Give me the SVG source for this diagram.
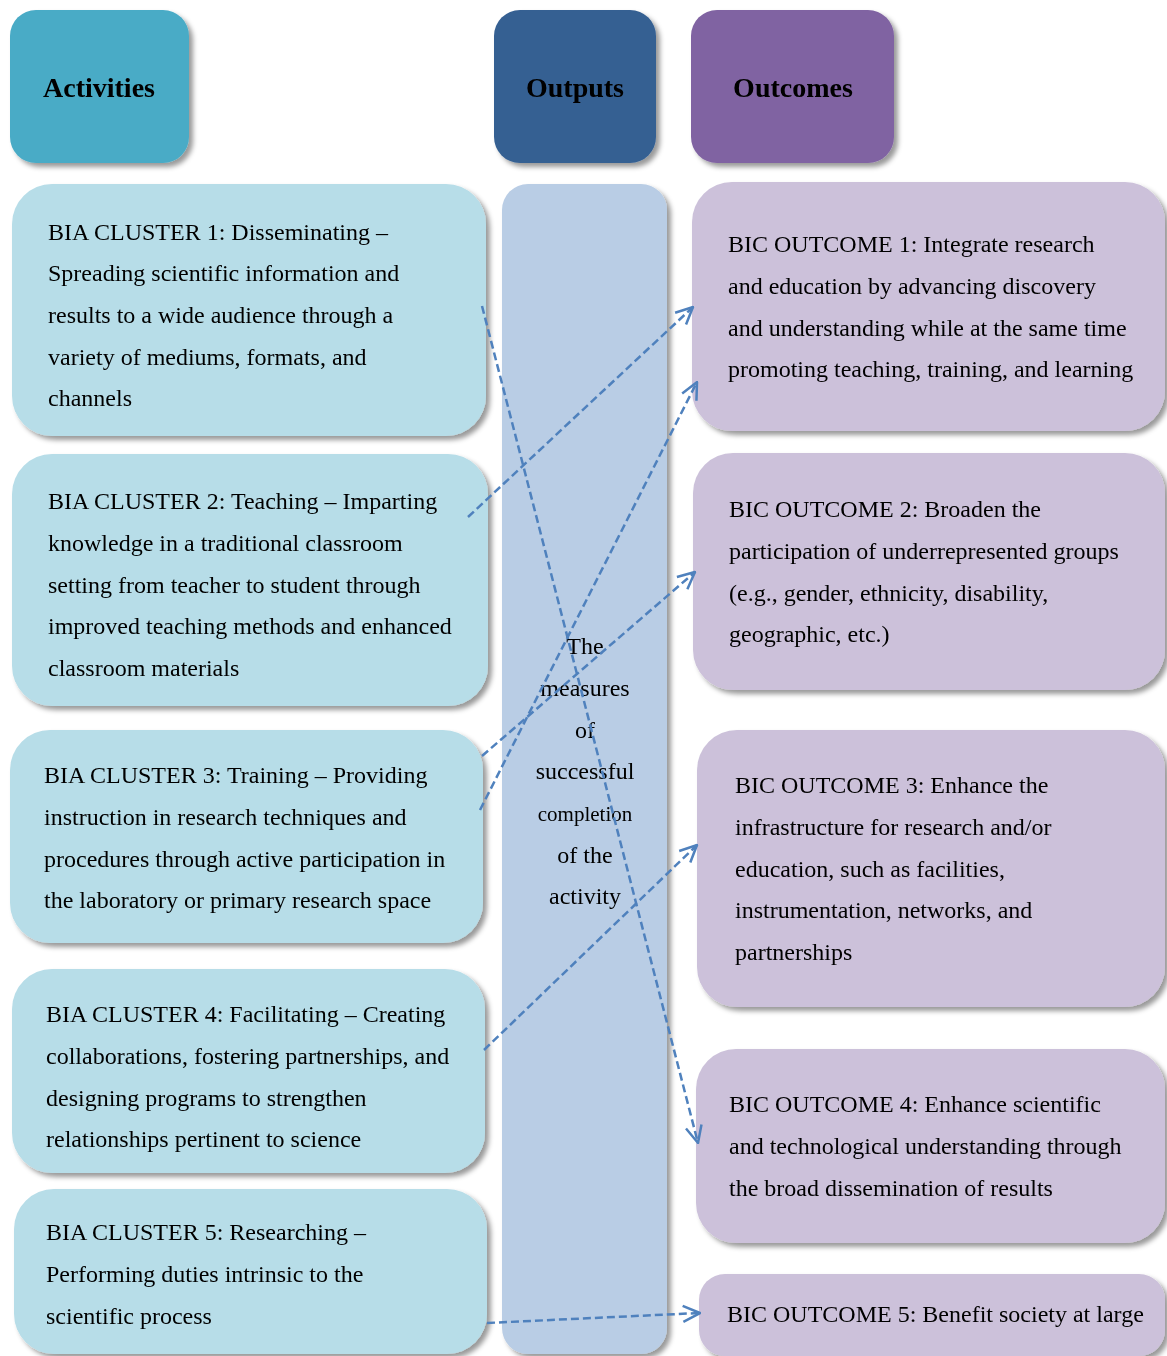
<svg xmlns="http://www.w3.org/2000/svg" width="1167" height="1356" viewBox="0 0 1167 1356">
<style>
.t{font-family:"Liberation Serif","Times New Roman",serif;font-size:24px;fill:#000}
.h{font-family:"Liberation Serif","Times New Roman",serif;font-size:28px;font-weight:bold;fill:#000;text-anchor:middle}
.m{font-family:"Liberation Serif","Times New Roman",serif;font-size:24px;fill:#000;text-anchor:middle}
.act{fill:#b7dde8}
.out{fill:#ccc1da}
.conn{fill:none;stroke:#4f81bd;stroke-width:2.5;stroke-dasharray:8,4}
</style>
<defs>
<filter id="sh" x="-10%" y="-10%" width="130%" height="130%">
<feDropShadow dx="4" dy="4" stdDeviation="2.5" flood-color="#000" flood-opacity="0.4"/>
</filter>
<marker id="ah" viewBox="0 0 20 20" refX="19" refY="10" markerWidth="20" markerHeight="20" markerUnits="userSpaceOnUse" orient="auto">
<path d="M2,2 L19,10 L2,18" fill="none" stroke="#4f81bd" stroke-width="2.5"/>
</marker>
</defs>
<rect width="1167" height="1356" fill="#fff"/>

<g id="hdr-activities" filter="url(#sh)">
<rect x="10" y="10" width="179" height="153" rx="26" fill="#4aabc6"/>
<text class="h" x="99" y="97">Activities</text>
</g>
<g id="hdr-outputs" filter="url(#sh)">
<rect x="494" y="10" width="162" height="153" rx="26" fill="#366092"/>
<text class="h" x="575" y="97">Outputs</text>
</g>
<g id="hdr-outcomes" filter="url(#sh)">
<rect x="691" y="10" width="203" height="153" rx="26" fill="#8064a2"/>
<text class="h" x="793" y="97">Outcomes</text>
</g>

<g id="outputs-col" filter="url(#sh)">
<rect x="502" y="184" width="165" height="1170" rx="26" fill="#b9cde5"/>
<text class="m" x="585" y="654">The</text>
<text class="m" x="585" y="696">measures</text>
<text class="m" x="585" y="738">of</text>
<text class="m" x="585" y="779">successful</text>
<text class="m" x="585" y="821" style="font-size:21px">completion</text>
<text class="m" x="585" y="863">of the</text>
<text class="m" x="585" y="904">activity</text>
</g>

<g id="cluster1" filter="url(#sh)">
<rect class="act" x="12" y="184" width="474" height="252" rx="40"/>
<text class="t" x="48" y="240">BIA CLUSTER 1: Disseminating –</text>
<text class="t" x="48" y="281">Spreading scientific information and</text>
<text class="t" x="48" y="323">results to a wide audience through a</text>
<text class="t" x="48" y="365">variety of mediums, formats, and</text>
<text class="t" x="48" y="406">channels</text>
</g>
<g id="cluster2" filter="url(#sh)">
<rect class="act" x="12" y="454" width="476" height="252" rx="40"/>
<text class="t" x="48" y="509">BIA CLUSTER 2: Teaching – Imparting</text>
<text class="t" x="48" y="551">knowledge in a traditional classroom</text>
<text class="t" x="48" y="593">setting from teacher to student through</text>
<text class="t" x="48" y="634">improved teaching methods and enhanced</text>
<text class="t" x="48" y="676">classroom materials</text>
</g>
<g id="cluster3" filter="url(#sh)">
<rect class="act" x="10" y="730" width="473" height="213" rx="40"/>
<text class="t" x="44" y="783">BIA CLUSTER 3: Training – Providing</text>
<text class="t" x="44" y="825">instruction in research techniques and</text>
<text class="t" x="44" y="867">procedures through active participation in</text>
<text class="t" x="44" y="908">the laboratory or primary research space</text>
</g>
<g id="cluster4" filter="url(#sh)">
<rect class="act" x="12" y="969" width="473" height="204" rx="40"/>
<text class="t" x="46" y="1022">BIA CLUSTER 4: Facilitating – Creating</text>
<text class="t" x="46" y="1064">collaborations, fostering partnerships, and</text>
<text class="t" x="46" y="1106">designing programs to strengthen</text>
<text class="t" x="46" y="1147">relationships pertinent to science</text>
</g>
<g id="cluster5" filter="url(#sh)">
<rect class="act" x="14" y="1189" width="473" height="165" rx="40"/>
<text class="t" x="46" y="1240">BIA CLUSTER 5: Researching –</text>
<text class="t" x="46" y="1282">Performing duties intrinsic to the</text>
<text class="t" x="46" y="1324">scientific process</text>
</g>

<g id="outcome1" filter="url(#sh)">
<rect class="out" x="692" y="182" width="473" height="249" rx="40"/>
<text class="t" x="728" y="252">BIC OUTCOME 1: Integrate research</text>
<text class="t" x="728" y="294">and education by advancing discovery</text>
<text class="t" x="728" y="336">and understanding while at the same time</text>
<text class="t" x="728" y="377">promoting teaching, training, and learning</text>
</g>
<g id="outcome2" filter="url(#sh)">
<rect class="out" x="693" y="453" width="472" height="237" rx="40"/>
<text class="t" x="729" y="517">BIC OUTCOME 2: Broaden the</text>
<text class="t" x="729" y="559">participation of underrepresented groups</text>
<text class="t" x="729" y="601">(e.g., gender, ethnicity, disability,</text>
<text class="t" x="729" y="642">geographic, etc.)</text>
</g>
<g id="outcome3" filter="url(#sh)">
<rect class="out" x="697" y="730" width="468" height="277" rx="40"/>
<text class="t" x="735" y="793">BIC OUTCOME 3: Enhance the</text>
<text class="t" x="735" y="835">infrastructure for research and/or</text>
<text class="t" x="735" y="877">education, such as facilities,</text>
<text class="t" x="735" y="918">instrumentation, networks, and</text>
<text class="t" x="735" y="960">partnerships</text>
</g>
<g id="outcome4" filter="url(#sh)">
<rect class="out" x="696" y="1049" width="469" height="194" rx="40"/>
<text class="t" x="729" y="1112">BIC OUTCOME 4: Enhance scientific</text>
<text class="t" x="729" y="1154">and technological understanding through</text>
<text class="t" x="729" y="1196">the broad dissemination of results</text>
</g>
<g id="outcome5" filter="url(#sh)">
<rect class="out" x="699" y="1274" width="466" height="82" rx="26"/>
<text class="t" x="727" y="1322">BIC OUTCOME 5: Benefit society at large</text>
</g>

<g id="connectors">
<line class="conn" x1="482" y1="306" x2="698" y2="1143" marker-end="url(#ah)"/>
<line class="conn" x1="468" y1="517" x2="693" y2="307" marker-end="url(#ah)"/>
<line class="conn" x1="480" y1="810" x2="697" y2="382" marker-end="url(#ah)"/>
<line class="conn" x1="482" y1="756" x2="695" y2="572" marker-end="url(#ah)"/>
<line class="conn" x1="484" y1="1050" x2="697" y2="845" marker-end="url(#ah)"/>
<line class="conn" x1="487" y1="1323" x2="700" y2="1313" marker-end="url(#ah)"/>
</g>
</svg>
